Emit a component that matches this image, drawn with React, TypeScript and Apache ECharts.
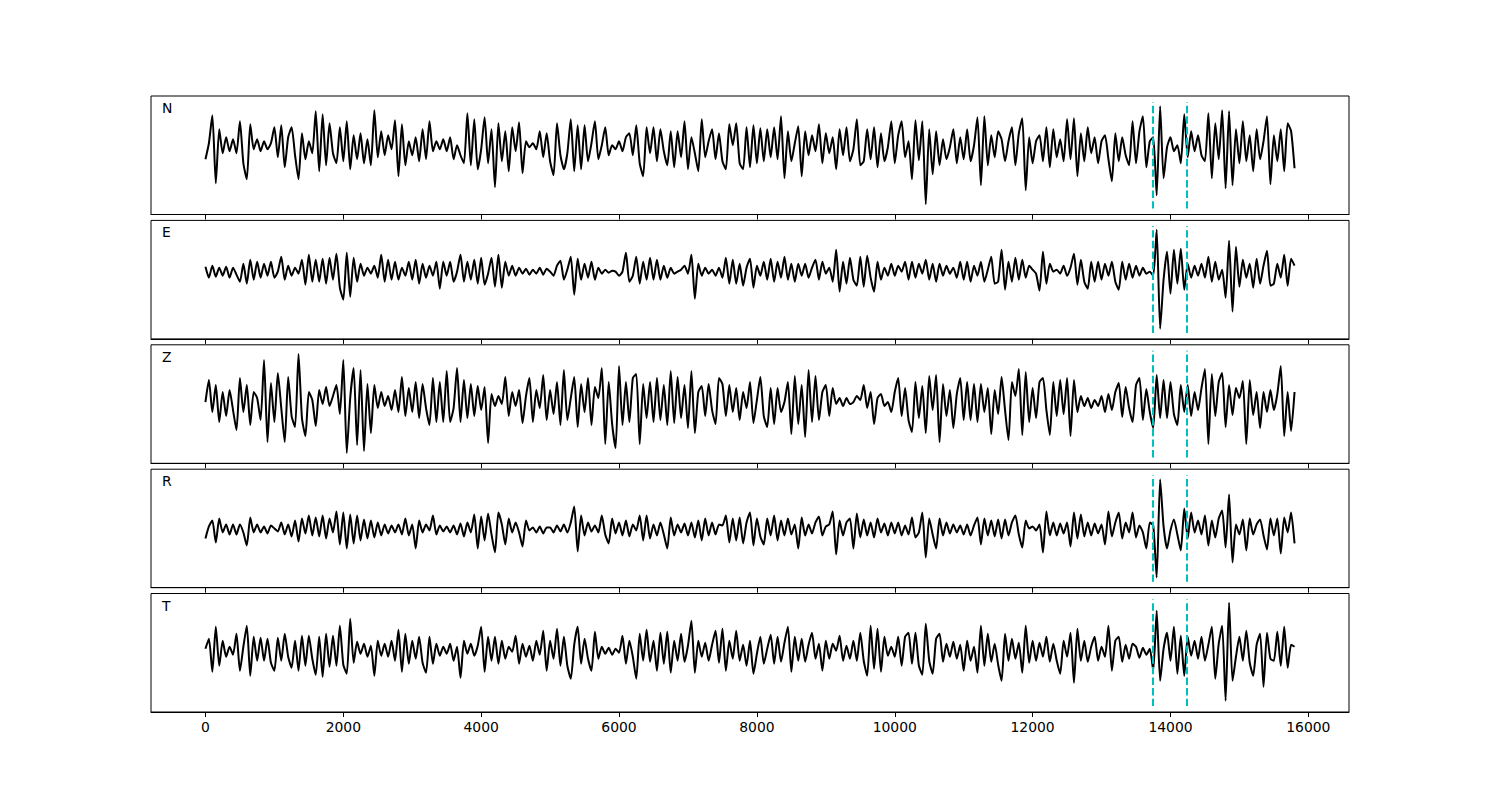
import React, { useEffect, useRef } from "react";
import * as echarts from "echarts";

// sample spacing of the traces (x units)
const sampleStep = 50;
const channelNames = ["N", "E", "Z", "R", "T"];
const xTicks = [0, 2000, 4000, 6000, 8000, 10000, 12000, 14000, 16000];
const pickTimes = [13740, 14240];

const traceN = [
  -4, 12, 40, -28, 26, 2, 18, 4, 16, 2,
  34, -8, -24, 31, 6, 16, 4, 14, 6, 12,
  28, -2, 30, -12, 18, 28, 0, -24, 22, -4,
  14, 2, 44, -16, 41, -10, 32, 2, -8, 28,
  -6, 34, -14, 20, -4, 22, -8, 16, -10, 45,
  -2, 24, 0, 20, 6, 35, -21, 31, -10, 14,
  0, 18, -6, 26, -4, 34, 4, 14, 6, 16,
  4, 18, -4, 10, 0, -8, 42, -10, 36, -14,
  6, 38, -8, 26, -32, 32, -6, 24, -16, 28,
  4, 33, -18, 14, 8, 12, 6, 24, -2, 22,
  -6, -20, 32, 0, -14, 2, 36, -16, 30, -14,
  30, -6, 12, 34, -4, 10, 28, 0, 10, 6,
  14, 4, 18, 22, 0, 30, -8, -21, 28, 2,
  28, -6, 26, 4, -10, 24, -12, 24, -2, 34,
  -14, 18, 2, -16, 36, -2, 14, 26, -4, 22,
  -6, -14, 31, 10, 32, -8, -14, 28, -12, 30,
  -8, 27, -6, 26, -2, 28, -4, 39, -23, 24,
  -6, 12, 29, -21, 24, 0, 20, 4, 31, -8,
  22, 2, 18, -14, 26, 0, 28, -6, 6, 36,
  -10, -6, 26, -4, 28, -12, 22, -6, 8, 34,
  -8, 20, 34, -2, 14, -24, 35, -5, 34, -49,
  26, -19, 24, -10, 16, -4, 8, 26, -8, 18,
  -4, 26, -6, 10, 38, -30, 39, -10, 20, -2,
  24, 16, -6, 14, 28, -10, 22, 37, -35, 18,
  -8, 14, 20, -6, 28, -12, 26, -2, 16, -6,
  36, -4, 37, -21, 22, -6, 28, 2, 18, -8,
  14, 20, -4, -26, 22, -6, 18, 0, -10, 34,
  -8, 24, 39, -12, 14, 18, -40, 49, -23, 8,
  18, 4, 10, -8, 41, -2, 24, 4, 20, 0,
  -6, 42, -23, 32, -4, 45, -33, 44, -30, 26,
  -8, 34, -6, 20, -16, 26, -4, 14, 39, -29,
  20, -6, 26, -16, 32, 24, -13,
];

const traceE = [
  13, 2, 14, 3, 12, 4, 13, 2, 12, 5,
  -2, 16, -4, 20, 0, 18, 2, 16, 4, 18,
  2, 8, 23, 0, 14, 4, 12, 6, 20, -5,
  25, -2, 20, -2, 21, -4, 22, 0, 26, -8,
  -20, 27, -17, 22, -2, 16, 4, 12, 6, 14,
  2, 25, -2, 20, 0, 18, 0, 12, 4, 18,
  0, 20, -4, 16, 2, 14, 4, 18, -9, 18,
  4, 18, -2, 8, 25, -2, 18, 0, 20, -4,
  22, -5, 6, 22, -7, 25, -8, 18, 4, 14,
  4, 12, 6, 11, 5, 10, 6, 12, 5, 11,
  8, 4, 14, 19, 0, 10, 23, -15, 21, 0,
  16, 2, 18, 0, 12, 6, 10, 7, 9, 8,
  4, 8, 27, -2, 4, 23, -4, 18, 0, 22,
  0, 20, 0, 14, 2, 12, 6, 8, 10, 14,
  6, 25, -19, 16, 4, 12, 6, 10, 4, 12,
  2, 22, -4, 20, -4, 16, -6, 12, 21, -8,
  14, 4, 18, 0, 21, -2, 18, 2, 23, 0,
  16, -2, 16, 4, 16, 2, 12, 20, 0, 18,
  6, 12, -2, 30, -12, 18, -4, 22, 0, -6,
  23, -7, 24, 2, -12, 18, 0, 12, 4, 16,
  4, 14, 8, 18, 0, 18, 2, 16, 6, 20,
  0, 16, -2, 16, 4, 14, 6, 12, 2, 18,
  0, 18, -2, 14, 4, 18, -2, 10, 23, -4,
  -2, 30, -10, 18, -2, 22, 0, 20, 2, 14,
  10, 6, -11, 28, -4, 16, 8, 10, 6, 14,
  4, 12, 26, -5, 20, -2, -9, 18, -2, 18,
  0, 16, 4, 18, -2, -10, 18, 0, 16, 2,
  14, 4, 12, 6, 8, 4, 50, -49, 0, 28,
  -14, 30, -4, 31, -10, 16, 2, 14, 4, 16,
  2, 23, -2, 18, 0, 10, -18, 39, -32, 33,
  -7, 20, 2, 16, -8, 21, -4, 14, 29, -6,
  -4, 16, 2, 25, -6, 21, 14,
];

const traceZ = [
  2, 24, -8, 19, -18, 12, -12, 14, -6, -26,
  26, -8, 19, -21, 12, 6, -16, 44, -38, 21,
  -18, 31, -4, -38, 27, -12, -23, 50, -14, -32,
  12, 4, -22, 14, 0, 17, -2, 8, 19, -10,
  44, -49, 6, 36, -41, 34, -47, 20, -29, 19,
  -4, 12, -2, 8, -6, 14, -8, 27, -12, 16,
  -8, 22, -14, 20, -4, -21, 26, -18, 22, -18,
  33, -18, -4, 36, -18, 24, -14, 20, -12, 18,
  -6, 17, -39, 10, -2, 8, 0, 27, -12, 12,
  -2, 14, -19, 8, 26, -18, 14, -4, 29, -16,
  14, -10, 22, -21, 34, -16, 6, 27, -23, 20,
  -8, 26, -21, 17, 6, 36, -40, 22, -20, -44,
  38, -21, 22, -18, 26, 30, -40, 20, -14, 22,
  -18, 26, -16, 19, -21, 33, -19, 27, -14, 19,
  -24, 33, -29, 12, 18, -12, 20, -6, -20, 26,
  20, -12, 19, -8, 16, -16, 12, -4, 22, -19,
  4, 27, -12, -23, 16, -20, 16, -8, 2, 22,
  -30, 28, -20, 19, -33, 34, -18, 28, -16, 12,
  19, -12, 16, 0, 6, -2, 6, 0, 2, 8,
  4, 19, -4, 12, -20, 6, 10, -2, 2, -8,
  12, 26, -12, 16, -16, -28, 22, -14, 18, -29,
  28, -6, 29, -38, 20, -12, 14, -24, 10, 26,
  -16, 22, -16, 20, -18, 20, -8, 16, -30, 14,
  -10, 27, -6, -36, 22, 8, 35, -31, 32, -18,
  16, -14, 22, 26, -6, -31, 22, -12, 24, -10,
  26, -32, 24, -8, 8, -2, 6, -4, 4, -2,
  8, -8, 10, -6, 12, 21, -13, 17, -4, -18,
  19, 26, -16, 15, -8, -24, 29, -14, 24, -14,
  22, -10, -21, 19, -8, 19, -12, 12, -6, 16,
  35, -40, 30, -12, 22, 31, -23, 19, -11, 16,
  6, 23, -40, 24, -11, 12, -24, 12, -8, 14,
  -6, 10, 38, -32, 12, -27, 12,
];

const traceR = [
  -10, 2, 8, -14, 10, -4, 4, -6, 4, -6,
  4, -4, -17, 11, -4, 4, -4, 2, -5, 3,
  0, -3, 6, -6, 4, -8, 8, -13, 10, -5,
  13, -7, 11, -8, 13, -10, 10, -4, 17, -16,
  16, -20, 14, -15, 13, -12, 9, -10, 8, -9,
  6, -7, 4, -5, 3, -4, 4, -6, 10, -7,
  4, -20, 8, -4, 4, -2, 13, -6, 3, -3,
  2, -4, 3, -6, 5, -8, 6, -4, 14, -20,
  12, -12, 15, -6, -24, 16, 4, -16, 10, -4,
  6, -4, -18, 8, -2, 1, -4, 2, -5, 1,
  1, -4, 3, -3, 4, -4, 6, 22, -23, 13,
  -7, 6, -3, 3, -4, 13, -6, -15, 10, -5,
  6, -7, 8, -8, 4, -2, 13, -12, 13, -10,
  4, -7, 6, -6, -20, 11, -7, 4, -4, 5,
  -7, 6, -9, 8, -12, 10, -7, 6, -6, 4,
  3, 13, -14, 10, -12, 11, -15, 6, 16, -17,
  10, -8, -16, 10, -7, 13, -12, 8, -7, 10,
  -6, 4, -20, 11, -7, 4, -5, 6, 12, -7,
  2, 4, 17, -26, 8, -7, 6, 10, -20, 15,
  -9, 9, -7, 6, -9, 10, -4, 5, -7, 6,
  -5, 6, -7, 3, -6, 11, -9, -4, 16, -29,
  10, -6, -20, 10, -7, 6, -5, 4, -4, 3,
  -6, 4, -7, 3, 11, -16, 10, -7, 8, -8,
  9, -10, 9, -7, 6, 13, -6, -19, 8, 0,
  2, -2, 4, -24, 17, -7, 6, -7, 5, -5,
  6, -18, 16, -10, 14, -8, 6, -7, 5, -5,
  4, -16, 17, -8, 6, 16, -10, 6, -4, 16,
  -9, 3, -4, -20, 6, 3, -49, 49, 2, -20,
  -2, 9, -6, -22, 20, -10, 16, -4, 8, -6,
  13, -17, 8, -9, 10, 18, -19, 34, -34, 4,
  -6, 9, -22, 10, -6, 4, 9, -7, -21, 10,
  -7, 10, -25, 11, -4, 16, -15,
];

const traceT = [
  4, 14, -19, 26, -13, 12, -4, 6, -2, 19,
  -18, 6, 27, -23, 16, -8, 15, -8, 14, -10,
  -18, 15, -8, 19, -4, -15, 12, -18, 17, -13,
  17, -6, -22, 16, -24, 19, -14, 17, -13, 27,
  -12, -21, 34, -10, 11, -1, 9, -4, 7, -23,
  12, -3, 9, -4, 12, -8, 23, -19, 19, -11,
  12, -6, 16, -10, -20, 16, -11, 9, -3, 6,
  -1, 9, -8, 6, -25, 12, -1, 9, -3, 7,
  26, -19, 16, -8, 16, -11, 12, -6, 6, 1,
  17, -11, 9, -4, 7, -8, 12, -2, 22, -18,
  12, -6, 24, -13, 16, -13, -26, 8, 26, -11,
  14, -6, -18, 21, -6, 6, -1, 5, -2, 4,
  0, 17, -11, 12, -4, -26, 19, -8, 23, -9,
  12, -18, 20, -11, 21, -20, 12, -8, 19, -9,
  7, 32, -20, 12, -4, 10, -8, 8, 22, -10,
  24, -18, 12, -6, 22, -8, 8, -13, 12, -21,
  -1, 16, -11, 4, 18, -11, 16, -9, 10, 26,
  -19, 16, -8, 14, -9, 8, 20, -6, 9, -18,
  12, -6, 9, 2, 17, -8, 7, -6, 12, -8,
  20, -8, -23, 27, -16, 24, -19, 16, -3, 6,
  -4, 16, -13, 16, 20, -11, 20, -13, -22, 29,
  -8, -21, 14, 19, -9, 9, -4, 11, -6, 8,
  -18, 12, -8, 6, -20, 27, -13, 19, -9, 9,
  -12, -28, 19, -8, 14, -6, 10, -20, 27, -10,
  12, -8, 10, -4, 16, -9, 9, -8, -21, 12,
  -4, 20, -30, 24, -8, 12, -9, 6, 16, -8,
  6, -4, 27, -18, 12, 16, -9, 8, -6, 9,
  6, -5, 5, -2, 4, -18, 42, -28, 4, 20,
  -8, 26, -21, 17, -23, 16, -3, 12, -6, 16,
  -8, 8, 26, -26, 9, 27, -48, 50, -28, -4,
  16, -8, 22, -10, -23, 8, 19, -34, 20, -6,
  -8, 21, -13, 26, -15, 8, 6,
];

const traces = [traceN, traceE, traceZ, traceR, traceT];

export default function App() {
  const ref = useRef<HTMLDivElement>(null);

  useEffect(() => {
    if (!ref.current) return;
    const chart = echarts.init(ref.current, undefined, { renderer: "svg" });

    const panelTops = [96, 220.4, 344.8, 469.2, 593.5];
    const panelHeight = 118.5;
    const left = 151;
    const width = 1198;
    const xMin = -790;
    const xMax = 16590;
    const yHalf = panelHeight / 2;
    const pickHalf = yHalf * 0.9;
    const font = "DejaVu Sans";

    const grids = panelTops.map((top) => ({
      left,
      top,
      width,
      height: panelHeight,
      show: true,
      borderColor: "#000",
      borderWidth: 1,
      backgroundColor: "#fff",
      containLabel: false,
      outerBoundsMode: "none",
    }));

    const xAxes = panelTops.map((_, k) => ({
      type: "value",
      gridIndex: k,
      position: "bottom",
      min: xMin,
      max: xMax,
      axisLine: { show: true, onZero: false, lineStyle: { color: "#000", width: 1 } },
      axisTick: {
        show: true,
        inside: false,
        length: 5,
        lineStyle: { color: "#000", width: 1 },
        customValues: xTicks,
      },
      axisLabel: {
        show: k === panelTops.length - 1,
        customValues: xTicks,
        formatter: (v: number) => String(v),
        color: "#000",
        fontSize: 13.9,
        fontFamily: font,
        margin: 8,
      },
      splitLine: { show: false },
    }));

    const yAxes = panelTops.map((_, k) => ({
      type: "value",
      gridIndex: k,
      min: -yHalf,
      max: yHalf,
      show: false,
      axisLine: { onZero: false },
      splitLine: { show: false },
    }));

    const series = traces.map((tr, k) => ({
      type: "line",
      xAxisIndex: k,
      yAxisIndex: k,
      data: tr.map((v, i) => [i * sampleStep, v]),
      symbol: "none",
      showSymbol: false,
      smooth: 0.2,
      lineStyle: { color: "#000", width: 2 },
      emphasis: { disabled: true },
      silent: true,
      z: 2,
      markLine: {
        silent: true,
        symbol: ["none", "none"],
        label: { show: false },
        lineStyle: { color: "#00BFBF", width: 2, type: [7.4, 3.2] },
        emphasis: { disabled: true },
        data: pickTimes.map((t) => [
          { coord: [t, -pickHalf] },
          { coord: [t, pickHalf] },
        ]),
      },
    }));

    const graphics = channelNames.map((name, k) => ({
      type: "text",
      left: 162,
      top: panelTops[k] + 5,
      style: {
        text: name,
        fill: "#000",
        font: `13.9px '${font}'`,
      },
      z: 10,
    }));

    chart.setOption({
      animation: false,
      backgroundColor: "#fff",
      grid: grids,
      xAxis: xAxes,
      yAxis: yAxes,
      series,
      graphic: graphics,
    } as any);

    return () => {
      chart.dispose();
    };
  }, []);

  return (
    <div
      ref={ref}
      style={{
        position: "absolute",
        left: 0,
        top: 0,
        width: 1500,
        height: 800,
        background: "#fff",
      }}
    />
  );
}
